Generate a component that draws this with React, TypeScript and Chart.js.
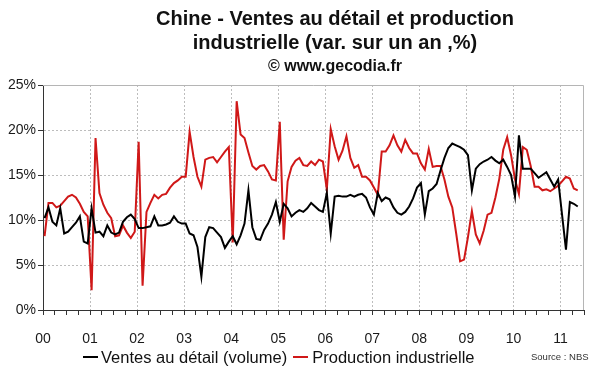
import React, { useEffect, useRef } from "react";
import { Chart, registerables } from "chart.js";

Chart.register(...registerables);

// Year tick labels (one every 12 months, starting Jan 2000)
const yearLabels = ["00", "01", "02", "03", "04", "05", "06", "07", "08", "09", "10", "11"];
const yTickValues = [0, 5, 10, 15, 20, 25];

// Monthly, Jan 2000 -> May 2011 (y/y %)
const retailSales = [
  10.2, 11.4, 9.8, 9.4, 11.3, 8.5, 8.7, 9.2, 9.7, 10.4, 7.6, 7.4,
  11.3, 8.6, 8.7, 8.2, 9.4, 8.6, 8.4, 8.6, 9.8, 10.3, 10.6, 10.1,
  9.1, 9.1, 9.2, 9.3, 10.4, 9.4, 9.4, 9.5, 9.7, 10.4, 9.8, 9.6,
  9.6, 8.5, 8.3, 7.0, 3.7, 8.1, 9.2, 9.1, 8.6, 8.1, 6.9, 7.6,
  8.2, 7.3, 8.3, 9.6, 13.3, 9.2, 7.9, 7.8, 8.9, 9.6, 10.6, 12.0,
  9.8, 11.8, 11.3, 10.4, 10.8, 11.1, 10.9, 11.3, 11.9, 11.5, 11.1, 10.9,
  13.0, 8.5, 12.6, 12.7, 12.6, 12.6, 12.8, 12.6, 12.8, 12.9, 12.5, 11.4,
  10.6, 13.0, 12.1, 12.5, 12.3, 11.4, 10.8, 10.6, 10.9, 11.5, 12.4, 13.6,
  14.1, 10.6, 13.2, 13.5, 14.0, 15.5, 16.9, 18.0, 18.5, 18.3, 18.1, 17.8,
  17.2, 13.3, 15.7, 16.2, 16.5, 16.7, 17.0, 16.6, 16.3, 16.7, 15.9, 15.0,
  12.6, 19.4, 15.7, 15.7, 15.7, 15.2, 14.7, 15.0, 15.3, 14.5, 13.7, 14.5,
  10.6, 6.7, 12.0, 11.8, 11.5,
];

const industrialProduction = [
  8.2, 11.9, 11.9, 11.4, 11.6, 12.1, 12.6, 12.8, 12.5, 11.8, 10.9, 10.4,
  2.2, 19.1, 13.0, 11.7, 10.8, 10.2, 8.2, 8.3, 9.4, 8.6, 8.0, 8.7,
  18.7, 2.7, 10.9, 11.9, 12.8, 12.4, 12.8, 12.9, 13.6, 14.1, 14.4, 14.8,
  14.8, 19.8, 17.0, 14.8, 13.7, 16.7, 16.9, 17.0, 16.4, 17.0, 17.6, 18.1,
  7.5, 23.2, 19.5, 19.1, 17.5, 16.0, 15.6, 16.0, 16.1, 15.4, 14.5, 14.4,
  20.9, 7.8, 14.3, 15.9, 16.6, 16.9, 16.1, 16.0, 16.5, 16.1, 16.7, 16.5,
  13.4, 20.1, 18.2, 16.7, 17.7, 19.3, 16.9, 15.8, 16.1, 14.8, 14.8, 14.4,
  13.6, 12.8, 17.6, 17.6, 18.3, 19.4, 18.3, 17.6, 18.9, 18.0, 17.4, 17.4,
  16.3, 15.6, 17.9, 15.9, 16.0, 16.0, 14.5, 12.6, 11.4, 8.5, 5.4, 5.6,
  8.1, 11.0, 8.4, 7.4, 8.8, 10.6, 10.8, 12.5, 14.6, 17.8, 19.2, 17.2,
  14.5, 12.9, 18.1, 17.8, 16.0, 13.7, 13.7, 13.3, 13.4, 13.2, 13.5, 13.8,
  14.3, 14.8, 14.6, 13.5, 13.3,
];

const FONT = '"Liberation Sans", Arial, sans-serif';

const framePlugin = {
  id: "frame",
  beforeDatasetsDraw(chart: any) {
    const { ctx, chartArea } = chart;
    const { left, top, right, bottom } = chartArea;
    ctx.save();
    ctx.strokeStyle = "#b5b5b5";
    ctx.lineWidth = 1;
    ctx.beginPath();
    ctx.moveTo(left, Math.round(top) + 0.5);
    ctx.lineTo(Math.round(right) - 0.5, Math.round(top) + 0.5);
    ctx.lineTo(Math.round(right) - 0.5, bottom);
    ctx.stroke();
    ctx.restore();
  },
};

export default function App() {
  const canvasRef = useRef<HTMLCanvasElement | null>(null);

  useEffect(() => {
    const canvas = canvasRef.current;
    if (!canvas) return;
    const toPoints = (arr: number[]) => arr.map((v, i) => ({ x: i + 0.4, y: v }));
    const monthTicks: number[] = [];
    for (let m = 0; m <= 138; m += 3) monthTicks.push(m);

    const chart = new Chart(canvas, {
      type: "line",
      data: {
        datasets: [
          {
            label: "Ventes au détail (volume)",
            data: toPoints(retailSales),
            borderColor: "#000000",
            backgroundColor: "#000000",
            borderWidth: 2,
            pointRadius: 0,
            tension: 0,
          },
          {
            label: "Production industrielle",
            data: toPoints(industrialProduction),
            borderColor: "#d01818",
            backgroundColor: "#d01818",
            borderWidth: 2,
            pointRadius: 0,
            tension: 0,
          },
        ],
      },
      options: {
        animation: false,
        responsive: false,
        devicePixelRatio: 1,
        layout: { padding: { top: 85, right: 13, left: 0, bottom: 0 } },
        plugins: {
          legend: { display: false },
          title: { display: false },
          tooltip: { enabled: false },
        },
        scales: {
          x: {
            type: "linear",
            min: 0,
            max: 138,
            afterFit: (s: any) => {
              s.height = 62;
            },
            afterBuildTicks: (s: any) => {
              s.ticks = monthTicks.map((v) => ({ value: v }));
            },
            ticks: {
              autoSkip: false,
              maxRotation: 0,
              minRotation: 0,
              padding: 16,
              color: "#1a1a1a",
              font: { family: FONT, size: 14 },
              callback: (v: any) => (v % 12 === 0 ? yearLabels[v / 12] ?? "" : ""),
            },
            grid: {
              color: (ctx: any) => {
                const v = ctx.tick ? ctx.tick.value : -1;
                return v > 0 && v < 138 && v % 12 === 0 ? "#bdbdbd" : "rgba(0,0,0,0)";
              },
              tickColor: "#333333",
              tickLength: 5,
              lineWidth: 1,
            },
            border: { display: true, color: "#333333", width: 1, dash: [2, 2] },
          },
          y: {
            min: 0,
            max: 25,
            afterFit: (s: any) => {
              s.width = 43;
            },
            afterBuildTicks: (s: any) => {
              s.ticks = yTickValues.map((v) => ({ value: v }));
            },
            ticks: {
              padding: 2,
              color: "#1a1a1a",
              font: { family: FONT, size: 14 },
              callback: (v: any) => v + "%",
            },
            grid: {
              color: (ctx: any) => {
                const v = ctx.tick ? ctx.tick.value : -1;
                return v > 0 && v < 25 ? "#bdbdbd" : "rgba(0,0,0,0)";
              },
              tickColor: "#333333",
              tickLength: 5,
              lineWidth: 1,
            },
            border: { display: true, color: "#333333", width: 1, dash: [2, 2] },
          },
        },
      },
      plugins: [framePlugin],
    } as any);

    return () => chart.destroy();
  }, []);

  return (
    <div style={{ position: "relative", width: 600, height: 372, background: "#ffffff", overflow: "hidden" }}>
      <style>{`body{margin:0;background:#fff;}`}</style>
      <canvas ref={canvasRef} width={600} height={372} style={{ position: "absolute", left: 0, top: 0 }} />
      <div
        style={{
          position: "absolute",
          left: 335,
          top: 6,
          transform: "translateX(-50%)",
          textAlign: "center",
          whiteSpace: "nowrap",
          fontFamily: FONT,
          fontWeight: "bold",
          fontSize: 20,
          lineHeight: "24px",
          color: "#111111",
        }}
      >
        <div>Chine - Ventes au détail et production</div>
        <div>industrielle (var. sur un an ,%)</div>
        <div style={{ fontSize: 16, lineHeight: "24px" }}>© www.gecodia.fr</div>
      </div>
      <div
        style={{
          position: "absolute",
          left: 83,
          top: 347,
          display: "flex",
          alignItems: "center",
          whiteSpace: "nowrap",
          fontFamily: FONT,
          fontSize: 16.5,
          lineHeight: "20px",
          color: "#111111",
        }}
      >
        <span style={{ display: "inline-block", width: 15, height: 2, background: "#000000", marginRight: 3 }} />
        <span>Ventes au détail (volume)</span>
        <span style={{ display: "inline-block", width: 15, height: 2, background: "#d01818", marginLeft: 6, marginRight: 4 }} />
        <span>Production industrielle</span>
      </div>
      <div
        style={{
          position: "absolute",
          left: 531,
          top: 351,
          whiteSpace: "nowrap",
          fontFamily: FONT,
          fontSize: 9.5,
          lineHeight: "12px",
          color: "#333333",
        }}
      >
        Source : NBS
      </div>
    </div>
  );
}
